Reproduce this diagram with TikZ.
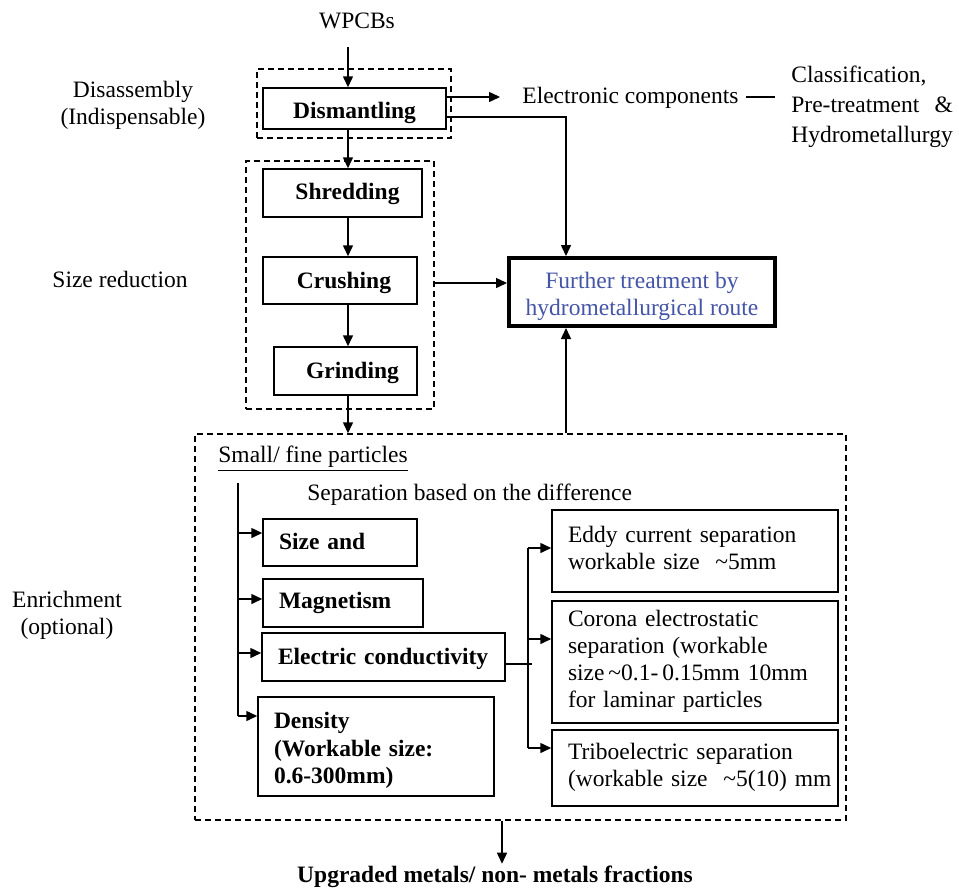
\documentclass[tikz,border=0pt]{standalone}
\usepackage{fontspec}
\setmainfont{Liberation Serif}
\usetikzlibrary{arrows.meta}
\definecolor{routeblue}{RGB}{68,84,166}
% left-aligned block of lines, set with the font's own word spacing
\newcommand\rowsleft[1]{\begin{tabular}{@{}l@{}}#1\end{tabular}}
\newcommand\rowsmid[1]{\begin{tabular}{@{}c@{}}#1\end{tabular}}
% lower a box without changing the room it takes
\newcommand\dropby[2]{\raisebox{-#1}[\height][\depth]{#2}}
\begin{document}
\begin{tikzpicture}[x=0.5pt,y=-0.5pt,
  every node/.style={font=\fontsize{11.75}{13.5}\selectfont},
  ln/.style={line width=0.75pt},
  arr/.style={ln,-{Triangle[length=5.5pt,width=5pt]}},
  dbox/.style={draw,ln,dash pattern=on 3pt off 2pt,inner sep=0pt},
  sbox/.style={draw,ln,inner sep=0pt,font=\fontsize{11.75}{13.5}\selectfont\bfseries},
  lbox/.style={draw,ln,align=left,inner xsep=8pt,inner ysep=0pt,text width=#1,
    font=\fontsize{11.75}{13.75}\selectfont\bfseries},
  rbox/.style={draw,ln,align=left,inner xsep=8pt,inner ysep=0pt,text width=127pt},
  lbl/.style={align=center}]
\useasboundingbox (0,0) rectangle (959,889);

% dashed stage frames
\node[dbox,minimum width=97pt,minimum height=34.5pt] (disbox) at (354,103.5) {};
\node[dbox,minimum width=94pt,minimum height=124pt] (sizegrp) at (340,285) {};
\node[dbox,minimum width=325.5pt,minimum height=193pt] (enrich) at (520.5,627) {};

% stage labels
\node[lbl] (disasm) at (133,105) {Disassembly\\(Indispensable)};
\node (sizered) at (120,279) {Size reduction};
\node[lbl] (enrlbl) at (67,615) {Enrichment\\(optional)};

% main chain
\node (wpcbs) at (357,21) {WPCBs};
\coordinate (wstart) at (348,47);
\coordinate (mainx) at (348,0);
\node[sbox,minimum width=91.5pt,minimum height=20.5pt] (dism) at (354.5,108.5) {\dropby{2pt}{Dismantling}};
\node[sbox,minimum width=79.5pt,minimum height=24pt] (shred) at (342.5,193) {\hspace*{5pt}\dropby{0.5pt}{Shredding}};
\node[sbox,minimum width=77pt,minimum height=23.5pt] (crush) at (340,280.5) {\hspace*{4pt}\dropby{1pt}{Crushing}};
\node[sbox,minimum width=71.5pt,minimum height=24pt] (grind) at (345.5,371) {\hspace*{7pt}\dropby{1pt}{Grinding}};

\draw[arr] (wstart) -- (dism.north -| mainx);
\draw[arr] (dism.south -| mainx) -- (shred.north -| mainx);
\draw[arr] (shred.south -| mainx) -- (crush.north -| mainx);
\draw[arr] (crush.south -| mainx) -- (grind.north -| mainx);
\draw[arr] (grind.south -| mainx) -- (enrich.north -| mainx);

% electronic components branch
\node[anchor=west,inner xsep=3.5pt] (ecomp) at (515,98) {Electronic components};
\node[anchor=west,inner sep=0pt,font=\fontsize{11.75}{15}\selectfont] (cls) at (791,106)
  {\rowsleft{Classification,\\Pre-treatment\hfill\&\\Hydrometallurgy}};
\draw[arr] (dism.east |- 0,97) -- ([xshift=-7.5pt]ecomp.west |- 0,97);
\draw[ln] (ecomp.east |- 0,97) -- ([xshift=-8pt]cls.west |- 0,97);

% hydrometallurgical route
\node[draw,line width=2pt,minimum width=133pt,minimum height=34pt,
  text=routeblue] (further) at (642,292)
  {\dropby{2.5pt}{\rowsmid{Further treatment by\\hydrometallurgical route}}};
\coordinate (feed) at (566,117);
\draw[arr] (dism.east |- feed) -- (feed) -- (feed |- further.north);
\draw[arr] (feed |- enrich.north) -- (feed |- further.south);
\draw[arr] (sizegrp.east |- 0,283) -- (further.west |- 0,283);

% enrichment content
\node[anchor=west,inner sep=0pt] (small) at (218,459) {\underline{Small/ fine particles}};
\node[anchor=west,inner sep=0pt] (sepdiff) at (307,495) {Separation based on the difference};

\node[lbox=61pt,minimum height=23.5pt] (sizeand) at (340,542.5) {\dropby{0.5pt}{\rowsleft{Size and}}};
\node[lbox=64pt,minimum height=24pt] (magnet) at (343,603) {\rowsleft{Magnetism}};
\node[lbox=105.5pt,minimum height=24pt] (econd) at (383.5,657) {\dropby{1pt}{\rowsleft{Electric conductivity}}};
\node[lbox=102pt,minimum height=49.5pt] (density) at (376,746.5)
  {\dropby{2pt}{\rowsleft{Density\\(Workable size:\\0.6-300mm)}}};

\coordinate (busTop) at (238,483);
\coordinate (busBot) at (238,716);
\draw[ln] (busTop) -- (busBot);
\draw[arr] (busTop |- 0,533) -- (sizeand.west |- 0,533);
\draw[arr] (busTop |- 0,599) -- (magnet.west |- 0,599);
\draw[arr] (busTop |- 0,653) -- (econd.west |- 0,653);
\draw[arr] (busBot) -- (density.west |- busBot);

\node[rbox,minimum height=41pt] (eddy) at (695,551)
  {\rowsleft{Eddy current separation\\workable size\ \ \textasciitilde5mm}\\[4pt]};
\node[rbox,minimum height=61pt] (corona) at (695,662)
  {\rowsleft{Corona electrostatic\\separation (workable\\size\,\textasciitilde0.1-\,0.15mm 10mm\\for laminar particles}};
\node[rbox,minimum height=38pt] (tribo) at (695,768)
  {\rowsleft{Triboelectric separation\\(workable size\ \ \textasciitilde5(10) mm}};

\coordinate (bus2Top) at (528,548);
\coordinate (bus2Bot) at (528,748);
\coordinate (ecEnd) at (532,664);
\draw[ln] (bus2Top) -- (bus2Bot);
\draw[ln] (econd.east |- ecEnd) -- (ecEnd);
\draw[arr] (bus2Top) -- (eddy.west |- bus2Top);
\draw[arr] (bus2Top |- 0,639) -- (corona.west |- 0,639);
\draw[arr] (bus2Bot) -- (tribo.west |- bus2Bot);

% output
\coordinate (outx) at (502,0);
\node[inner ysep=1pt,font=\fontsize{11.75}{13.5}\selectfont\bfseries] (result) at (495,877)
  {Upgraded metals/ non- metals fractions};
\draw[arr] (enrich.south -| outx) -- (result.north -| outx);
\end{tikzpicture}
\end{document}
